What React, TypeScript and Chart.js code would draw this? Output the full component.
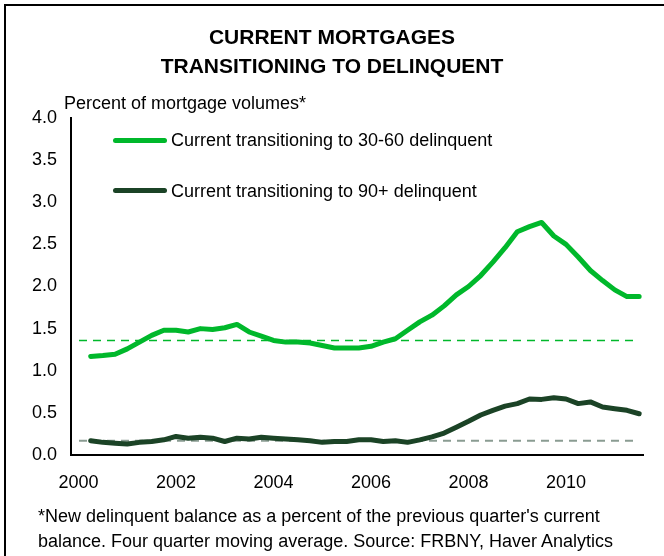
import React, { useEffect, useRef } from "react";
import { Chart, registerables } from "chart.js";

Chart.register(...registerables);

const quarters = [
  "2000Q2", "2000Q3", "2000Q4",
  "2001Q1", "2001Q2", "2001Q3", "2001Q4",
  "2002Q1", "2002Q2", "2002Q3", "2002Q4",
  "2003Q1", "2003Q2", "2003Q3", "2003Q4",
  "2004Q1", "2004Q2", "2004Q3", "2004Q4",
  "2005Q1", "2005Q2", "2005Q3", "2005Q4",
  "2006Q1", "2006Q2", "2006Q3", "2006Q4",
  "2007Q1", "2007Q2", "2007Q3", "2007Q4",
  "2008Q1", "2008Q2", "2008Q3", "2008Q4",
  "2009Q1", "2009Q2", "2009Q3", "2009Q4",
  "2010Q1", "2010Q2", "2010Q3", "2010Q4",
  "2011Q1", "2011Q2", "2011Q3",
];

const current3060 = [
  1.17, 1.18, 1.195, 1.26, 1.34, 1.42, 1.48, 1.48, 1.46, 1.5,
  1.49, 1.51, 1.55, 1.46, 1.41, 1.36, 1.34, 1.34, 1.33, 1.3,
  1.27, 1.27, 1.27, 1.29, 1.34, 1.38, 1.48, 1.58, 1.66, 1.77,
  1.9, 2.0, 2.13, 2.29, 2.46, 2.65, 2.71, 2.76, 2.6, 2.5,
  2.35, 2.19, 2.07, 1.96, 1.88, 1.88,
];

const current90 = [
  0.17, 0.15, 0.14, 0.13, 0.15, 0.16, 0.18, 0.22, 0.2, 0.21,
  0.2, 0.16, 0.2, 0.19, 0.21, 0.2, 0.19, 0.18, 0.17, 0.15,
  0.16, 0.16, 0.18, 0.18, 0.16, 0.17, 0.15, 0.18, 0.215, 0.26,
  0.33, 0.4, 0.475, 0.53, 0.58, 0.61, 0.665, 0.66, 0.68, 0.665,
  0.61, 0.63, 0.57, 0.55, 0.53, 0.49,
];

const avg3060 = 1.36;
const avg90 = 0.17;
const refSpan = [2000.01, 2011.44];

const xTickYears = [2000, 2002, 2004, 2006, 2008, 2010];
const yTickStep = 0.5;

const seriesNames = [
  "Current transitioning to 30-60 delinquent",
  "Current transitioning to 90+ delinquent",
];

const GREEN = "#00B82B";
const DARK = "#1B4326";
const GREY = "#8A9C92";

const quarterToYear = (q: string) =>
  Number(q.slice(0, 4)) + (Number(q.slice(5)) - 1) / 4;

const FONT = "'Liberation Sans', Arial, sans-serif";

export default function App() {
  const ref = useRef<HTMLCanvasElement | null>(null);

  useEffect(() => {
    if (!ref.current) return;
    Chart.defaults.font.family = FONT;
    Chart.defaults.color = "#000";
    const xs = quarters.map(quarterToYear);
    const chart = new Chart(ref.current, {
      type: "line",
      data: {
        datasets: [
          {
            label: seriesNames[0],
            data: xs.map((x, i) => ({ x, y: current3060[i] })),
            borderColor: GREEN,
            borderWidth: 5,
            pointRadius: 0,
            tension: 0,
            borderCapStyle: "round",
            borderJoinStyle: "round",
          },
          {
            label: seriesNames[1],
            data: xs.map((x, i) => ({ x, y: current90[i] })),
            borderColor: DARK,
            borderWidth: 5,
            pointRadius: 0,
            tension: 0,
            borderCapStyle: "round",
            borderJoinStyle: "round",
          },
          {
            label: "avg 30-60",
            data: refSpan.map((x) => ({ x, y: avg3060 })),
            borderColor: GREEN,
            borderWidth: 1.5,
            borderDash: [8, 6],
            pointRadius: 0,
          },
          {
            label: "avg 90+",
            data: refSpan.map((x) => ({ x, y: avg90 })),
            borderColor: GREY,
            borderWidth: 2,
            borderDash: [8, 6],
            pointRadius: 0,
          },
        ],
      },
      options: {
        animation: false,
        responsive: false,
        layout: { padding: { left: 0, top: 118, right: 21, bottom: 0 } },
        plugins: {
          legend: { display: false },
          tooltip: { enabled: false },
          title: { display: false },
        },
        scales: {
          x: {
            type: "linear",
            min: 1999.846,
            max: 2011.579,
            grid: { display: false, drawTicks: false },
            border: { display: true, color: "#000", width: 2 },
            ticks: {
              padding: 17,
              color: "#000",
              font: { size: 18, family: FONT },
              maxRotation: 0,
              autoSkip: false,
              callback: (v: any) => String(v),
            },
            afterBuildTicks: (s: any) => {
              s.ticks = xTickYears.map((v) => ({ value: v }));
            },
            afterFit: (s: any) => {
              s.height = 101;
            },
          },
          y: {
            min: 0,
            max: 4,
            grid: { display: false, drawTicks: false },
            border: { display: true, color: "#000", width: 2 },
            ticks: {
              stepSize: yTickStep,
              padding: 14,
              color: "#000",
              font: { size: 18, family: FONT },
              callback: (v: any) => Number(v).toFixed(1),
            },
            afterFit: (s: any) => {
              s.width = 71;
            },
          },
        },
      },
    });
    return () => chart.destroy();
  }, []);

  const text: React.CSSProperties = {
    position: "absolute",
    fontFamily: FONT,
    fontSize: 18,
    lineHeight: "20px",
    color: "#000",
    whiteSpace: "nowrap",
  };
  const title: React.CSSProperties = {
    position: "absolute",
    left: 0,
    width: 664,
    textAlign: "center",
    fontFamily: FONT,
    fontSize: 21,
    fontWeight: "bold",
    lineHeight: "24px",
    color: "#000",
    whiteSpace: "nowrap",
  };
  const legendLine = (color: string, top: number): React.CSSProperties => ({
    position: "absolute",
    left: 113,
    top,
    width: 54,
    height: 5,
    borderRadius: 2.5,
    background: color,
  });

  return (
    <div
      style={{
        position: "fixed",
        left: 0,
        top: 0,
        width: 664,
        height: 556,
        overflow: "hidden",
        background: "#fff",
      }}
    >
      <canvas
        ref={ref}
        width={664}
        height={556}
        style={{ position: "absolute", left: 0, top: 0, width: 664, height: 556 }}
      />
      <div
        style={{
          position: "absolute",
          left: 4,
          top: 4,
          width: 720,
          height: 620,
          border: "2px solid #000",
          pointerEvents: "none",
        }}
      />
      <div style={{ ...title, top: 25 }}>CURRENT MORTGAGES</div>
      <div style={{ ...title, top: 54 }}>TRANSITIONING TO DELINQUENT</div>
      <div style={{ ...text, left: 64, top: 93 }}>Percent of mortgage volumes*</div>
      <div style={legendLine(GREEN, 137.5)} />
      <div style={{ ...text, left: 171, top: 130 }}>{seriesNames[0]}</div>
      <div style={legendLine(DARK, 188)} />
      <div style={{ ...text, left: 171, top: 181 }}>{seriesNames[1]}</div>
      <div style={{ ...text, left: 38, top: 506 }}>
        *New delinquent balance as a percent of the previous quarter's current
      </div>
      <div style={{ ...text, left: 38, top: 531 }}>
        balance. Four quarter moving average. Source: FRBNY, Haver Analytics
      </div>
    </div>
  );
}
